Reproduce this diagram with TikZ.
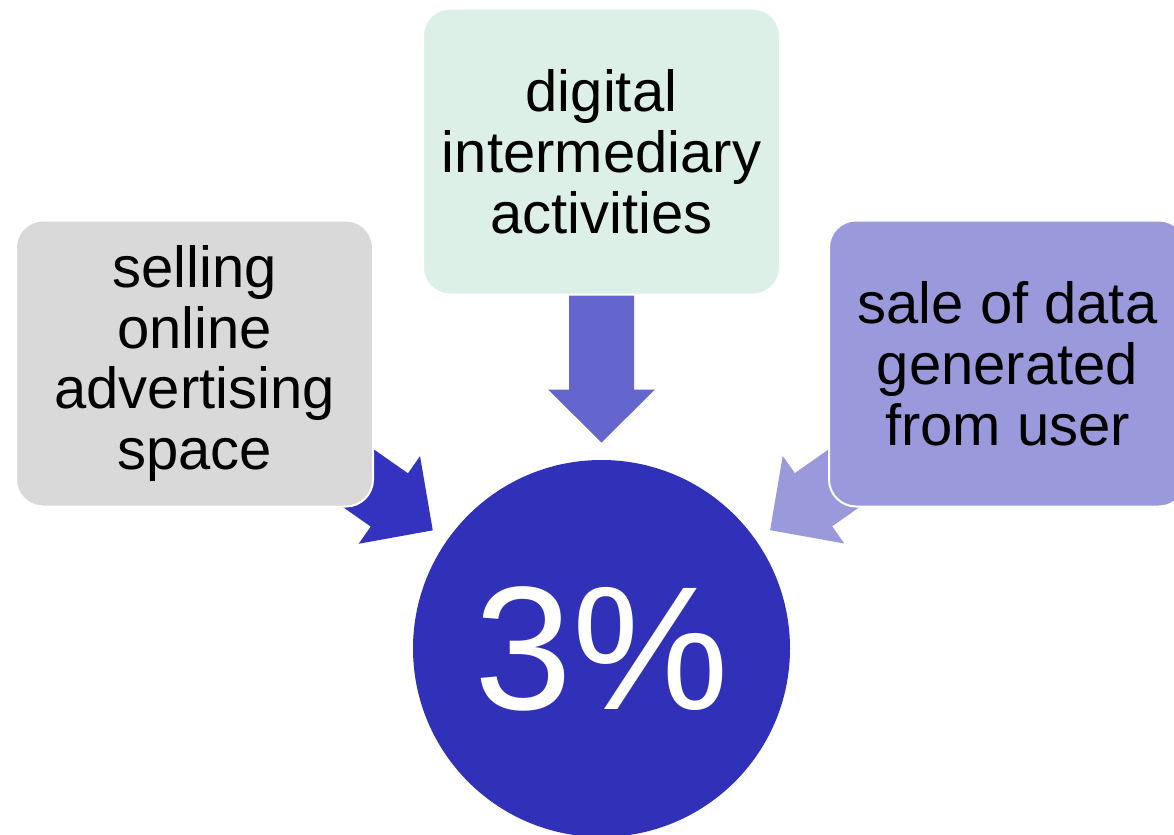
\documentclass[tikz,border=0pt]{standalone}
\usepackage{fontspec}
\setmainfont{Liberation Sans}
\usetikzlibrary{calc,backgrounds}
\definecolor{boxgray}{HTML}{D9D9D9}
\definecolor{boxmint}{HTML}{DCF0E8}
\definecolor{boxlav}{HTML}{9999DB}
\definecolor{ringblue}{HTML}{3030B8}
\definecolor{arrowmid}{HTML}{6565CE}
\definecolor{arrowdark}{HTML}{3333BF}
\tikzset{box/.style={rectangle, rounded corners=13.5pt, draw=white, line width=1pt, minimum width=178.5pt, minimum height=143pt, align=center, inner sep=0pt, font=\fontsize{29}{30.5}\selectfont},
  pctnode/.style={circle, fill=ringblue, minimum size=188.5pt, inner sep=0pt, text=white, font=\fontsize{88}{88}\selectfont}}

\begin{document}
\begin{tikzpicture}[x=0.5pt,y=-0.5pt]
\useasboundingbox (0,0) rectangle (1174,835);
\node[box, fill=boxgray] (sell) at (194.5,363.5) {selling\\online\\advertising\\space};
\node[box, fill=boxmint] (dig) at (601.5,151.5) {digital\\intermediary\\activities};
\node[box, fill=boxlav] (sale) at (1007.5,363.5) {sale of data\\generated\\from user};
\node[pctnode] (pct) at (601.5,648.5) {3\%};
\begin{scope}[on background layer]
\foreach \b/\c in {sell/arrowdark, dig/arrowmid, sale/boxlav}
{
  \coordinate (h) at ($(pct)!129.5pt!(\b)$);
  \coordinate (t) at ($(pct)!103pt!(\b)$);
  \fill[\c] ($(\b)!16.25pt!90:(pct)$) -- ($(h)!16.25pt!90:(pct)$) -- ($(h)!26.75pt!90:(pct)$)
    -- (t) -- ($(h)!26.75pt!-90:(pct)$) -- ($(h)!16.25pt!-90:(pct)$) -- ($(\b)!16.25pt!-90:(pct)$) -- cycle;
}
\end{scope}
\end{tikzpicture}
\end{document}
